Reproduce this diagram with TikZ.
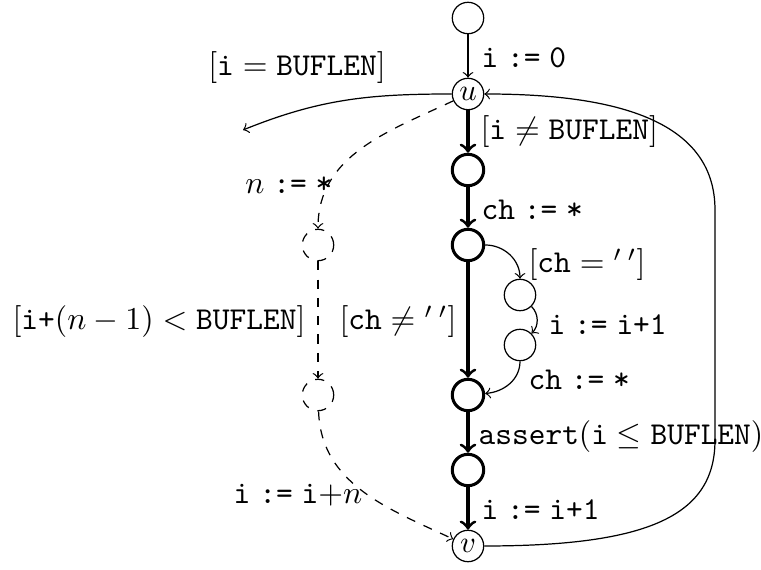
\documentclass[tikz,border=0pt]{standalone}
\newcommand\mytt[1]{\hbox{\ttfamily #1}}
\newcommand\tas{\mathrel{\hbox{\ttfamily :=}}}
\begin{document}
\begin{tikzpicture}[x=0.328pt,y=-0.328pt,
  st/.style={circle,draw,minimum size=10.3pt,inner sep=0pt},
  stk/.style={st,line width=1pt},
  std/.style={st,dashed},
  tn/.style={->},
  tk/.style={->,line width=1pt},
  td/.style={->,dashed},
  lab/.style={inner sep=0pt,scale=1.045}]
\useasboundingbox (0,0) rectangle (761,570);
% states
\node[st]  (top) at (468,18) {};
\node[st]  (u)   at (468,94) {$u$};
\node[stk] (n1)  at (468,170) {};
\node[stk] (n2)  at (468,245) {};
\node[st]  (s1)  at (520,295) {};
\node[st]  (s2)  at (520,345) {};
\node[stk] (n3)  at (468,395) {};
\node[stk] (n4)  at (468,470) {};
\node[st]  (v)   at (468,546) {$v$};
\node[std] (d1)  at (318,245) {};
\node[std] (d2)  at (318,395) {};
\coordinate (ex) at (243,130);
\coordinate (r1) at (715,440);
\coordinate (r2) at (715,210);
% edges
\draw[tn] (top) -- (u);
\draw[tk] (u) -- (n1);
\draw[tk] (n1) -- (n2);
\draw[tk] (n2) -- (n3);
\draw[tk] (n3) -- (n4);
\draw[tk] (n4) -- (v);
\draw[tn] (n2) to[out=0,in=90] (s1);
\draw[tn] (s1) to[out=-45,in=45] (s2);
\draw[tn] (s2) to[out=-90,in=5] (n3);
\draw[tn] (u) to[out=180,in=22] (ex);
\draw[td] (u) to[out=205,in=90] (d1);
\draw[td] (d1) -- (d2);
\draw[td] (d2) to[out=-88,in=155] (v);
\draw[tn] (v.east) .. controls (650,546) and (715,515) .. (r1) -- (r2) .. controls (715,118) and (610,94) .. (u.east);
% labels
\node[lab,anchor=west] (l0) at (481,58) {$\mytt{i}\tas\mytt{0}$};
\node[lab] (l1) at (297,68) {$[\mytt{i} = \mytt{BUFLEN}]$};
\node[lab,anchor=west] (l2) at (480,132) {$[\mytt{i} \neq \mytt{BUFLEN}]$};
\node[lab,anchor=west] (l3) at (481,210) {$\mytt{ch}\tas\mytt{*}$};
\node[lab,anchor=east] (l4) at (333,185) {$n\tas\mytt{*}$};
\node[lab,anchor=west] (l5) at (528,265) {$[\mytt{ch} = {}'\,{}']$};
\node[lab,anchor=west] (l6) at (548,325) {$\mytt{i}\tas\mytt{i+1}$};
\node[lab] (l7) at (398,322) {$[\mytt{ch} \neq {}'\,{}']$};
\node[lab] (l8) at (159,322) {$[\mytt{i+}(n-1) < \mytt{BUFLEN}]$};
\node[lab,anchor=west] (l9) at (528,380) {$\mytt{ch}\tas\mytt{*}$};
\node[lab,anchor=west] (l10) at (478,437) {$\mytt{assert}(\mytt{i} \leq \mytt{BUFLEN})$};
\node[lab,anchor=west] (l11) at (481,510) {$\mytt{i}\tas\mytt{i+1}$};
\node[lab] (l12) at (298,495) {$\mytt{i}\tas\mytt{i}{+}n$};
\end{tikzpicture}
\end{document}
